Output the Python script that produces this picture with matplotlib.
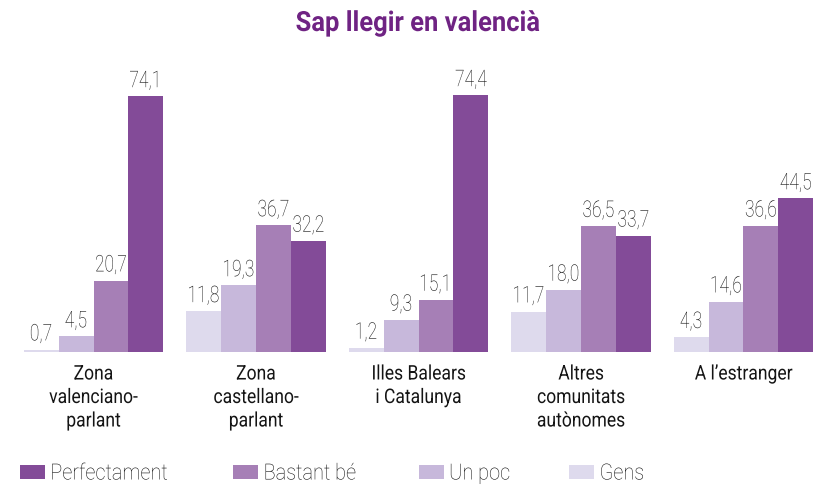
import matplotlib
matplotlib.use("Agg")
import matplotlib.pyplot as plt
import matplotlib.patheffects as pe
from matplotlib.transforms import Affine2D
import numpy as np

# data
regions = [
    "Zona\nvalenciano-\nparlant",
    "Zona\ncastellano-\nparlant",
    "Illes Balears\ni Catalunya",
    "Altres\ncomunitats\nautònomes",
    "A l’estranger",
]
gens = [0.7, 11.8, 1.2, 11.7, 4.3]
un_poc = [4.5, 19.3, 9.3, 18.0, 14.6]
bastant_be = [20.7, 36.7, 15.1, 36.5, 36.6]
perfectament = [74.1, 32.2, 74.4, 33.7, 44.5]

series = [
    ("Gens", gens, "#DEDAED"),
    ("Un poc", un_poc, "#C7B8DB"),
    ("Bastant bé", bastant_be, "#A67FB6"),
    ("Perfectament", perfectament, "#834B98"),
]
legend_order = ["Perfectament", "Bastant bé", "Un poc", "Gens"]

TEXT = "#141414"
TITLE = "#6F2383"


class Condense(pe.AbstractPathEffect):
    """Squeeze text horizontally to mimic a condensed typeface."""

    def __init__(self, sx=0.8, center=True):
        super().__init__()
        self.sx = sx
        self.center = center

    def draw_path(self, renderer, gc, tpath, affine, rgbFace=None):
        shift = 0.0
        if self.center:
            ext = tpath.get_extents()
            shift = (1 - self.sx) * ext.x1 / 2
        tr = Affine2D().scale(self.sx, 1).translate(shift, 0) + affine
        renderer.draw_path(gc, tpath, tr, rgbFace)


plt.rcParams["font.family"] = ["Roboto", "DejaVu Sans"]

fig = plt.figure(figsize=(8.14, 4.87), dpi=100)
ax = fig.add_axes([24 / 814, 135 / 487, 789 / 814, 276 / 487])

x = np.arange(len(regions))
width = 0.215
offsets = (np.arange(len(series)) - 1.5) * width

bars = {}
for (name, vals, color), off in zip(series, offsets):
    b = ax.bar(x + off, vals, width, color=color, label=name, linewidth=0)
    bars[name] = b
    for rect, v in zip(b, vals):
        t = ax.annotate(
            f"{v:.1f}".replace(".", ","),
            (rect.get_x() + rect.get_width() / 2, rect.get_height()),
            xytext=(0, 3), textcoords="offset points",
            ha="center", va="bottom", fontsize=16.5,
            fontweight="light", color=TEXT,
        )
        t.set_path_effects([Condense(0.76)])

ax.set_xlim(-0.4277, 4.4277)
ax.set_ylim(0, 80)
ax.set_xticks(x, regions)
ax.tick_params(axis="x", length=0, pad=9, labelsize=14.5, labelcolor=TEXT)
for lbl in ax.get_xticklabels():
    lbl.set_linespacing(1.3)
    lbl.set_path_effects([Condense(0.87)])
ax.set_yticks([])
for s in ax.spines.values():
    s.set_visible(False)

title = fig.text(417.5 / 814, 1 - 31 / 487, "Sap llegir en valencià", ha="center",
                 va="baseline", fontsize=20, fontweight="bold", color=TITLE)
title.set_path_effects([Condense(0.92)])

leg = fig.legend(
    [bars[n] for n in legend_order], legend_order,
    loc="center left", bbox_to_anchor=(20 / 814, 1 - 474 / 487),
    ncol=4, frameon=False, fontsize=16,
    handlelength=1.13, handleheight=0.59, handletextpad=0.23,
    columnspacing=2.34, borderaxespad=0, borderpad=0,
)
for t in leg.get_texts():
    t.set_color(TEXT)
    t.set_fontweight("light")
    t.set_path_effects([Condense(0.9, center=False)])

fig.savefig("out.png", dpi=100)
